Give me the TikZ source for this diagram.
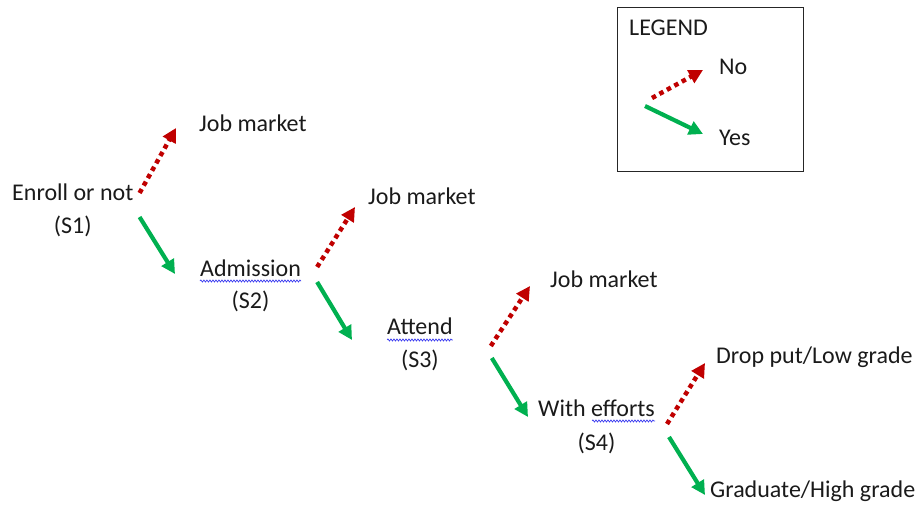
\documentclass[tikz,border=0pt]{standalone}
\usepackage{fontspec}
\setmainfont{Carlito}
\usetikzlibrary{arrows.meta,decorations.pathmorphing}
\definecolor{noRed}{HTML}{C00000}
\definecolor{yesGreen}{HTML}{00B050}
\definecolor{spellBlue}{HTML}{3B3BF0}
\definecolor{txt}{HTML}{1A1A1A}
\begin{document}
\begin{tikzpicture}[x=1pt,y=-1pt,
  lbl/.style={inner sep=0pt, anchor=base west, font=\fontsize{24}{29}\selectfont, text=txt},
  clbl/.style={lbl, anchor=base},
  noarrow/.style={draw=noRed, line width=4.5pt, dash pattern=on 4.5pt off 4pt, -{Triangle[length=14pt,width=14pt]}},
  yesarrow/.style={draw=yesGreen, line width=4.2pt, -{Triangle[length=14pt,width=14pt]}},
  spell/.style={draw=spellBlue, line width=0.7pt, decorate, decoration={snake, amplitude=1pt, segment length=3pt}},
  legendbox/.style={draw=black!85, line width=1.3pt, inner sep=0pt, anchor=north west, minimum width=186pt, minimum height=164pt}]
\useasboundingbox (0,0) rectangle (917,506);

% legend
\node[legendbox] (legend) at (617,7) {};
\node[lbl] (legtitle) at (629,35) {LEGEND};
\node[lbl] (no) at (719,74) {No};
\node[lbl] (yes) at (719,145) {Yes};
\coordinate (lno) at (652,98);
\coordinate (lyes) at (645,106);
\draw[noarrow] (lno) -- ([shift={(-16,-4)}]no.base west);
\draw[yesarrow] (lyes) -- ([shift={(-16,-11)}]yes.base west);

% stages
\node[lbl] (s1) at (12,200) {Enroll or not};
\node[clbl] (s1l) at (s1.base) [yshift=-33pt] {(S1)};
\node[lbl] (j1) at (199,131) {Job market};

\node[lbl] (s2) at (200,276) {Admission};
\node[clbl] (s2l) at (s2.base) [yshift=-32pt] {(S2)};
\node[lbl] (j2) at (368,204) {Job market};

\node[lbl] (s3) at (387,334) {Attend};
\node[clbl] (s3l) at (s3.base) [yshift=-33pt] {(S3)};
\node[lbl] (j3) at (550,287) {Job market};

\node[lbl] (s4) at (538,416) {With efforts};
\node[clbl] (s4l) at (s4.base) [yshift=-34pt] {(S4)};
\node[lbl] (dp) at (716,363) {Drop put/Low grade};
\node[lbl] (gr) at (710,497) {Graduate/High grade};

% spell-check underlines
\draw[spell] ([yshift=-5pt]s2.base west) -- ([yshift=-5pt]s2.base east);
\draw[spell] ([yshift=-6pt]s3.base west) -- ([yshift=-6pt]s3.base east);
\draw[spell] ([shift={(54,5)}]s4.base west) -- ([shift={(0,5)}]s4.base east);

% connectors
\draw[noarrow] ([shift={(6,-7)}]s1.base east) -- ([shift={(-23,-3)}]j1.base west);
\draw[yesarrow] ([shift={(6,17)}]s1.base east) -- ([shift={(-25,-2)}]s2.base west);

\draw[noarrow] ([shift={(16,-9)}]s2.base east) -- ([shift={(-13,3)}]j2.base west);
\draw[yesarrow] ([shift={(16,6)}]s2.base east) -- ([shift={(-35,6)}]s3.base west);

\draw[noarrow] ([shift={(38,12)}]s3.base east) -- ([shift={(-20,-1)}]j3.base west);
\draw[yesarrow] ([shift={(39,24)}]s3.base east) -- ([shift={(-10,1)}]s4.base west);

\draw[noarrow] ([shift={(12,8)}]s4.base east) -- ([shift={(-11,0)}]dp.base west);
\draw[yesarrow] ([shift={(14,21)}]s4.base east) -- ([shift={(-5,-2)}]gr.base west);
\end{tikzpicture}
\end{document}
